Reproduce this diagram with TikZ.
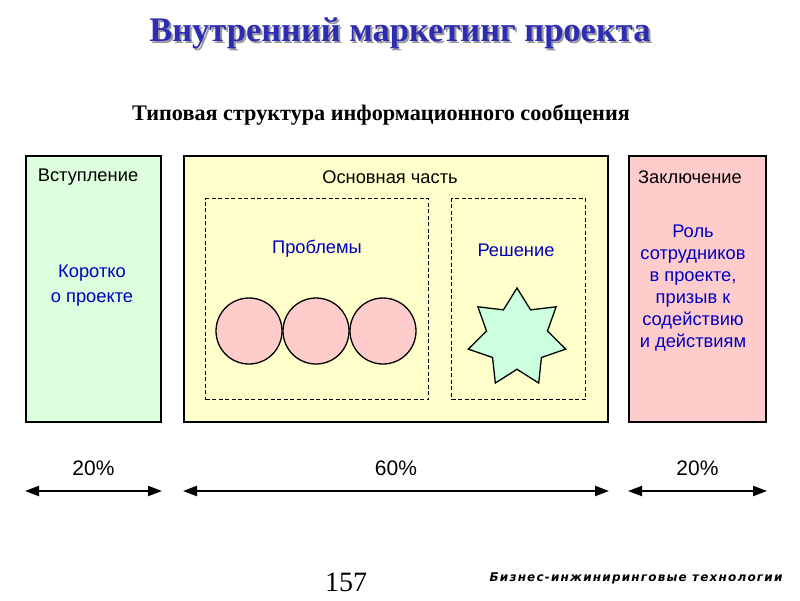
\documentclass[tikz,border=0pt]{standalone}
\usepackage{fontspec}
\setmainfont{Liberation Serif}
\setsansfont{Liberation Sans}
\newfontfamily\footfont[LetterSpace=10]{DejaVu Sans}
\usetikzlibrary{shapes.geometric,arrows.meta}

\definecolor{titleblue}{RGB}{45,45,180}
\definecolor{textblue}{RGB}{0,0,190}
\definecolor{introgreen}{RGB}{221,255,221}
\definecolor{mainyellow}{RGB}{255,255,204}
\definecolor{endpink}{RGB}{255,204,204}
\definecolor{stargreen}{RGB}{204,255,221}

\newcommand{\shadowed}[1]{\rlap{\kern2pt\raisebox{-2pt}{\textcolor{black!40}{#1}}}\textcolor{titleblue}{#1}}

\tikzset{
  part/.style={draw=black, line width=2pt, anchor=north west, inner sep=0pt},
  subpart/.style={draw=black, line width=1.2pt, dash pattern=on 4pt off 2.5pt,
    anchor=north west, inner sep=0pt},
  head/.style={font=\sffamily\fontsize{18.3}{21}\selectfont},
  note/.style={text=textblue, align=center, font=\sffamily\fontsize{18.3}{22}\selectfont},
  problem/.style={circle, draw=black, line width=1.3pt, fill=endpink,
    minimum size=66pt, inner sep=0pt},
  share/.style={{Triangle[length=14pt,width=10pt]}-{Triangle[length=14pt,width=10pt]},
    line width=2pt},
  pct/.style={font=\sffamily\fontsize{21}{24}\selectfont, yshift=23pt},
}

\begin{document}
\begin{tikzpicture}[x=1pt, y=-1pt]
    % 1. Область рисунка
    \useasboundingbox (0,0) rectangle (800,600);

    % 2. Заголовки
    \node[font=\bfseries\fontsize{34.5}{38}\selectfont] (title) at (400,34)
        {\shadowed{Внутренний маркетинг проекта}};
    \node[font=\bfseries\fontsize{22.2}{25}\selectfont] (subtitle) at (381,115)
        {Типовая структура информационного сообщения};

    % 3. Три части сообщения
    \node[part, fill=introgreen, minimum width=135pt, minimum height=266pt] (intro) at (25,155) {};
    \node[part, fill=mainyellow, minimum width=424pt, minimum height=266pt] (body) at (183,155) {};
    \node[part, fill=endpink, minimum width=137pt, minimum height=266pt] (outro) at (628,155) {};

    \node[head] (introHead) at (88,177) {Вступление};
    \node[head] (bodyHead) at (390,177) {Основная часть};
    \node[head] (outroHead) at (690,177) {Заключение};

    \node[note, font=\sffamily\fontsize{18.3}{25}\selectfont] (introNote) at (92,286)
        {Коротко\\о проекте};
    \node[note] (outroNote) at (693,288)
        {Роль\\сотрудников\\в проекте,\\призыв к\\содействию\\и действиям};

    % 4. Проблемы и решение
    \node[subpart, minimum width=223pt, minimum height=201pt] (problems) at (205,198) {};
    \node[subpart, minimum width=134pt, minimum height=201pt] (solution) at (451,198) {};

    \node[note] (problemsHead) at (317,249) {Проблемы};
    \node[note] (solutionHead) at (516,250) {Решение};

    \foreach \i/\x in {1/249, 2/316, 3/383}
        \node[problem] (prob\i) at (\x,331) {};

    \node[star, star points=7, star point ratio=1.6, draw=black, line width=1.3pt,
        fill=stargreen, minimum size=100pt, inner sep=0pt] (idea) at (517,338) {};

    % 5. Доли частей
    \coordinate (introL) at ([yshift=-68pt]intro.south west);
    \coordinate (introR) at ([yshift=-68pt]intro.south east);
    \coordinate (bodyL) at ([yshift=-68pt]body.south west);
    \coordinate (bodyR) at ([yshift=-68pt]body.south east);
    \coordinate (outroL) at ([yshift=-68pt]outro.south west);
    \coordinate (outroR) at ([yshift=-68pt]outro.south east);

    \draw[share] (introL) -- node[pct] (introPct) {20\%} (introR);
    \draw[share] (bodyL) -- node[pct] (bodyPct) {60\%} (bodyR);
    \draw[share] (outroL) -- node[pct] (outroPct) {20\%} (outroR);

    % 6. Нижний колонтитул
    \node[font=\fontsize{28}{30}\selectfont] (page) at (346,582) {157};
    \node[font=\footfont\bfseries\itshape\fontsize{12}{14}\selectfont, anchor=east] (brand) at (786,578)
        {Бизнес-инжиниринговые технологии};
\end{tikzpicture}
\end{document}
